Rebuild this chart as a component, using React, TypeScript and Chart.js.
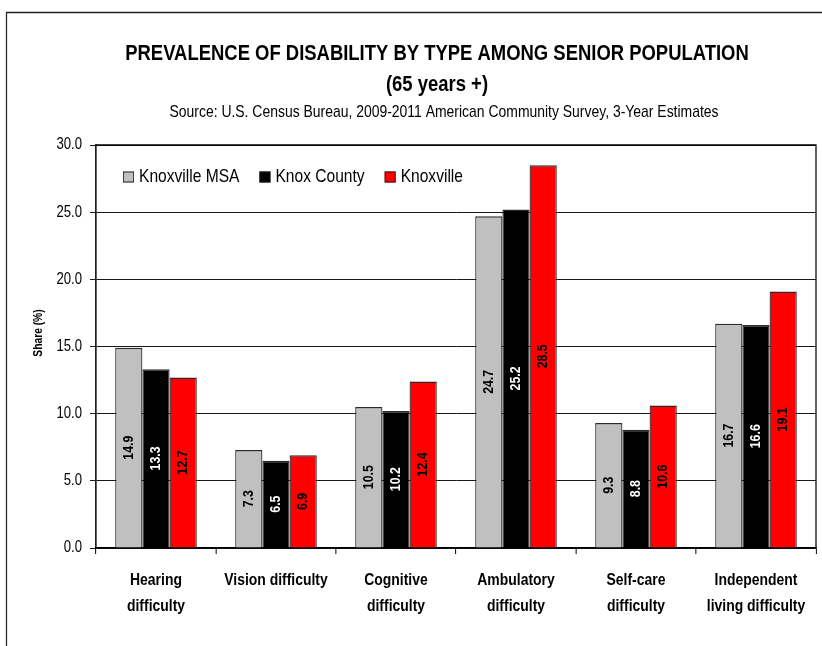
import React, { useEffect, useRef } from "react";
import { Chart, registerables } from "chart.js";

Chart.register(...registerables);

const categories: string[][] = [
  ["Hearing", "difficulty"],
  ["Vision difficulty"],
  ["Cognitive", "difficulty"],
  ["Ambulatory", "difficulty"],
  ["Self-care", "difficulty"],
  ["Independent", "living difficulty"],
];
const seriesNames = ["Knoxville MSA", "Knox County", "Knoxville"];
const msaValues = [14.9, 7.3, 10.5, 24.7, 9.3, 16.7];
const countyValues = [13.3, 6.5, 10.2, 25.2, 8.8, 16.6];
const cityValues = [12.7, 6.9, 12.4, 28.5, 10.6, 19.1];
const yTickValues = [0, 5, 10, 15, 20, 25, 30];
const titleLines = [
  "PREVALENCE OF DISABILITY BY TYPE AMONG SENIOR POPULATION",
  "(65 years +)",
];
const subtitleText =
  "Source: U.S. Census Bureau, 2009-2011 American Community Survey, 3-Year Estimates";
const yAxisTitle = "Share (%)";

const FONT = '"Liberation Sans", Arial, sans-serif';
const seriesColors = ["#c0c0c0", "#000000", "#ff0000"];
const labelColors = ["#000000", "#ffffff", "#000000"];

// horizontal condensing factor (emulates a narrow typeface)
const S = 0.82;
const W = 822;
const H = 646;
const VW = Math.ceil(W / S);
const v = (r: number) => r / S;

const squeezePlugin = {
  id: "squeeze",
  beforeDraw(chart: any) {
    const ctx = chart.ctx;
    ctx.save();
    ctx.setTransform(S, 0, 0, 1, 0, 0);
    ctx.fillStyle = "#ffffff";
    ctx.fillRect(0, 0, VW, H);
    ctx.strokeStyle = "#222222";
    ctx.lineWidth = 1.5;
    ctx.beginPath();
    ctx.moveTo(v(6.5), H + 5);
    ctx.lineTo(v(6.5), 12.5);
    ctx.lineTo(VW + 5, 12.5);
    ctx.stroke();
    ctx.fillStyle = "#000000";
    ctx.textAlign = "center";
    ctx.textBaseline = "middle";
    ctx.font = `bold 22.5px ${FONT}`;
    ctx.fillText(titleLines[0], v(437), 54);
    ctx.fillText(titleLines[1], v(437), 85);
    ctx.font = `17px ${FONT}`;
    ctx.fillText(subtitleText, v(444), 112);
  },
  afterDraw(chart: any) {
    const ctx = chart.ctx;
    const a = chart.chartArea;
    ctx.strokeStyle = "#000000";
    ctx.lineWidth = 1.5;
    ctx.beginPath();
    ctx.moveTo(a.left, a.top);
    ctx.lineTo(a.right, a.top);
    ctx.lineTo(a.right, a.bottom);
    ctx.stroke();
    // legend
    ctx.font = `19px ${FONT}`;
    ctx.textBaseline = "middle";
    ctx.textAlign = "left";
    let x = v(123);
    const cy = 177;
    const sq = 11;
    chart.data.datasets.forEach((ds: any) => {
      ctx.fillStyle = ds.backgroundColor;
      ctx.fillRect(x, cy - sq / 2, v(sq), sq);
      ctx.strokeStyle = "#222222";
      ctx.lineWidth = 1;
      ctx.strokeRect(x + 0.5, cy - sq / 2 + 0.5, v(sq) - 1, sq - 1);
      ctx.fillStyle = "#000000";
      ctx.fillText(ds.label, x + v(sq + 5), cy);
      x += v(sq + 5) + ctx.measureText(ds.label).width + v(20);
    });
    ctx.restore();

    // rotated texts, condensed along their own length
    ctx.save();
    ctx.setTransform(1, 0, 0, 1, 0, 0);
    ctx.translate(38.5, 333);
    ctx.rotate(-Math.PI / 2);
    ctx.scale(S, 1);
    ctx.font = `bold 12.5px ${FONT}`;
    ctx.fillStyle = "#000000";
    ctx.textAlign = "center";
    ctx.textBaseline = "middle";
    ctx.fillText(yAxisTitle, 0, 0);
    ctx.restore();

    chart.data.datasets.forEach((ds: any, di: number) => {
      const meta = chart.getDatasetMeta(di);
      meta.data.forEach((bar: any, i: number) => {
        const val = ds.data[i] as number;
        const { x: bx, y, base } = bar.getProps(["x", "y", "base"], true);
        ctx.save();
        ctx.setTransform(1, 0, 0, 1, 0, 0);
        ctx.translate(bx * S, (y + base) / 2);
        ctx.rotate(-Math.PI / 2);
        ctx.scale(S, 1);
        ctx.font = `bold 15px ${FONT}`;
        ctx.fillStyle = labelColors[di];
        ctx.textAlign = "center";
        ctx.textBaseline = "middle";
        ctx.fillText(val.toFixed(1), 0, 0);
        ctx.restore();
      });
    });
  },
};

export default function App() {
  const canvasRef = useRef<HTMLCanvasElement | null>(null);

  useEffect(() => {
    if (!canvasRef.current) return;
    const values = [msaValues, countyValues, cityValues];
    const chart = new Chart(canvasRef.current, {
      type: "bar",
      data: {
        labels: categories,
        datasets: seriesNames.map((name, i) => ({
          label: name,
          data: values[i],
          backgroundColor: seriesColors[i],
          borderColor: "#2a2a2a",
          borderWidth: 1.5,
          categoryPercentage: 0.68,
          barPercentage: 1,
        })),
      },
      options: {
        animation: false,
        responsive: false,
        devicePixelRatio: 1,
        layout: { padding: { top: 145, right: VW - v(816), left: 0, bottom: 0 } },
        plugins: {
          legend: { display: false },
          title: { display: false },
          tooltip: { enabled: false },
        },
        scales: {
          x: {
            grid: {
              display: true,
              drawOnChartArea: false,
              drawTicks: true,
              tickLength: 6,
              color: "#000000",
              lineWidth: v(1),
              offset: true,
            },
            border: { display: true, color: "#000000", width: 1.5 },
            ticks: {
              color: "#000000",
              font: { family: FONT, size: 17, weight: "bold", lineHeight: 26 / 17 },
              padding: 13,
              maxRotation: 0,
              autoSkip: false,
            },
            afterFit: (scale: any) => {
              scale.height = 98;
            },
          },
          y: {
            min: 0,
            max: 30,
            afterBuildTicks: (scale: any) => {
              scale.ticks = yTickValues.map((t) => ({ value: t }));
            },
            ticks: {
              color: "#000000",
              font: { family: FONT, size: 16 },
              padding: v(8),
              callback: (t: any) => Number(t).toFixed(1),
            },
            grid: {
              color: "#000000",
              lineWidth: 1,
              tickLength: v(6),
              drawTicks: true,
            },
            border: { display: true, color: "#000000", width: v(1.5) },
            title: { display: false },
            afterFit: (scale: any) => {
              scale.width = v(96);
            },
          },
        },
      },
      plugins: [squeezePlugin],
    } as any);
    return () => chart.destroy();
  }, []);

  return (
    <div
      style={{
        position: "absolute",
        left: 0,
        top: 0,
        width: W,
        height: H,
        overflow: "hidden",
      }}
    >
      <canvas ref={canvasRef} width={VW} height={H} style={{ display: "block" }} />
    </div>
  );
}
